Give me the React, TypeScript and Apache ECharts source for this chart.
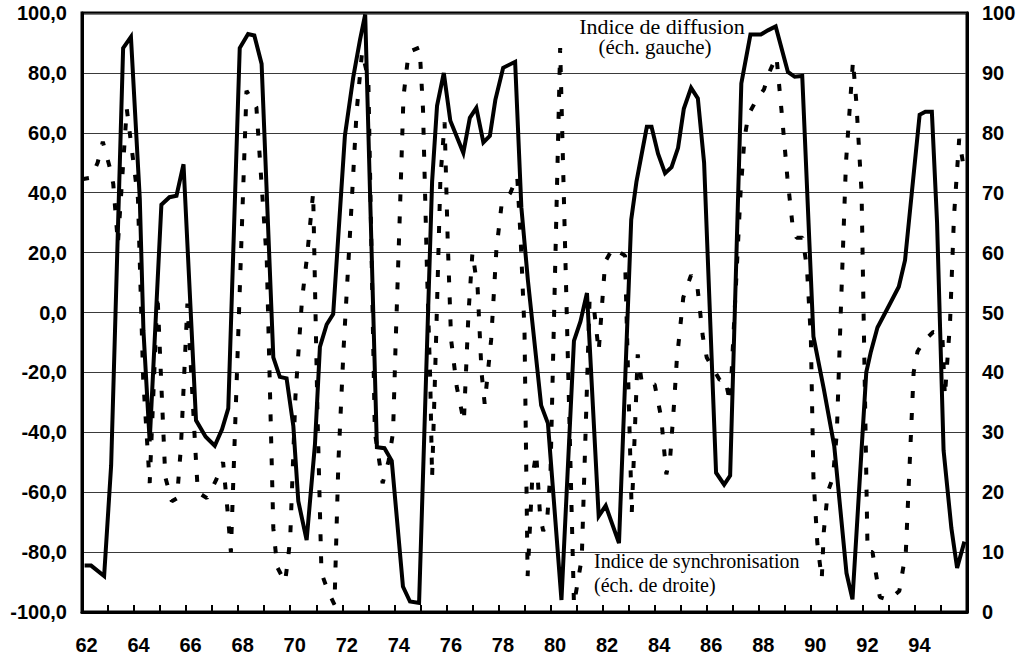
import React, { useEffect, useRef } from "react";
import * as echarts from "echarts";

// Indice de diffusion (échelle de gauche), by decimal year
const diffusionYears = [
  62.1, 62.35, 62.85, 63.12, 63.58, 63.88, 64.22, 64.36, 64.6, 65.05, 65.36, 65.63, 65.9, 66.38, 66.75,
  67.1, 67.38, 67.62, 68.06, 68.38, 68.62, 68.9, 69.35, 69.6, 69.86, 70.12, 70.31, 70.63, 70.95, 71.14,
  71.4, 71.65, 72.1, 72.42, 72.68, 72.88, 73.33, 73.62, 73.9, 74.33, 74.6, 74.95, 75.45, 75.64, 75.9,
  76.15, 76.65, 76.9, 77.15, 77.42, 77.67, 77.88, 78.18, 78.64, 78.88, 79.13, 79.64, 79.9, 80.42, 80.9,
  81.15, 81.4, 81.85, 82.12, 82.63, 83.1, 83.3, 83.7, 83.88, 84.13, 84.4, 84.65, 84.9, 85.12, 85.4,
  85.66, 85.9, 86.36, 86.67, 86.9, 87.33, 87.68, 88.08, 88.35, 88.65, 89.12, 89.38, 89.67, 90.1, 90.5,
  90.9, 91.37, 91.6, 92.13, 92.31, 92.56, 92.95, 93.38, 93.62, 94.18, 94.4, 94.65, 94.85, 95.1, 95.4,
  95.62, 95.9,
];
const diffusionValues = [
  -84.5, -84.5, -88, -51, 88.3, 92, 38, -6, -43, 36, 38.5, 39, 49.5, -36, -41.5,
  -44.5, -39, -32, 88.3, 93, 92.5, 83, -15, -21.5, -22, -38, -63, -76, -44, -11.5,
  -4, -0.5, 59, 78.5, 91, 99.5, -45, -45.3, -49.5, -91.5, -96.5, -97, 43.6, 69, 80,
  64, 53.3, 65, 68.3, 56.8, 59, 71, 81.7, 83.7, 35, 10.8, -31, -37, -96, -9.5,
  -3, 6.5, -68, -64.5, -77, 31, 43.6, 62, 62, 53, 46.5, 48.5, 55, 68, 75,
  71.5, 50, -53.5, -57.5, -54.5, 76.5, 92.8, 92.8, 94.2, 95.5, 80.3, 78.7, 79, -8, -25.6,
  -44.6, -87, -95.8, -20, -13, -5, 1.4, 8.6, 17.5, 66, 67, 67, 30, -46, -72,
  -85.3, -76.5,
];

// Indice de synchronisation (échelle de droite), by decimal year
const syncYears = [
  62.0, 62.35, 62.6, 62.8, 63.05, 63.2, 63.38, 63.72, 64.15, 64.35,
  64.6, 64.9, 65.2, 65.45, 65.65, 65.8, 66.05, 66.35, 66.45, 66.8,
  67.15, 67.42, 67.6, 67.72, 68.32, 68.7, 69.1, 69.35, 69.5, 69.8,
  69.92, 70.0, 70.2, 70.45, 70.65, 70.88, 71.05, 71.2, 71.45, 71.7,
  71.85, 72.05, 72.3, 72.55, 72.76, 73.0, 73.25, 73.55, 73.78, 73.95,
  74.05, 74.2, 74.35, 74.55, 74.97, 75.1, 75.25, 75.38, 75.45, 75.6,
  75.77, 75.93, 76.05, 76.18, 76.4, 76.67, 76.85, 77.0, 77.2, 77.35,
  77.47, 77.72, 77.92, 78.12, 78.46, 78.72, 78.85, 79.0, 79.12, 79.3,
  79.45, 79.6, 79.72, 79.88, 80.0, 80.37, 80.9, 81.2, 81.5, 81.65,
  81.85, 82.1, 82.4, 82.86, 83.12, 83.35, 83.5, 83.7, 84.0, 84.25,
  84.45, 84.6, 84.75, 84.85, 85.1, 85.4, 85.65, 85.85, 86.0, 86.5,
  86.7, 86.9, 87.3, 87.45, 87.6, 87.85, 88.2, 88.42, 88.68, 88.9,
  89.1, 89.3, 89.45, 89.68, 89.85, 90.0, 90.1, 90.25, 90.42, 90.5,
  90.65, 90.85, 91.0, 91.15, 91.35, 91.62, 91.75, 91.95, 92.18, 92.37,
  92.5, 92.65, 93.0, 93.4, 93.65, 93.8, 93.95, 94.1, 94.35, 94.7,
  95.05, 95.15, 95.35, 95.5, 95.7, 95.88,
];
const syncValues = [
  72.25, 72.5, 75, 78.5, 74.5, 71.5, 61.5, 84, 69, 39,
  21.5, 53, 22.5, 18.5, 19, 27.5, 51.5, 27.5, 20, 19,
  22, 25, 16.5, 10, 87, 84.25, 58.5, 14, 7.5, 5,
  9, 12.5, 36, 52, 59.5, 70, 32.5, 6.5, 3.5, 1.25,
  25, 44, 63.5, 83.5, 93.5, 89, 30, 21.5, 25.25, 30,
  45, 65, 86, 93.5, 94.25, 84, 57.5, 38.5, 22.5, 45,
  72.5, 81.75, 62, 45.5, 37.5, 31.75, 50, 60, 54, 40,
  34.75, 45.5, 60.5, 68, 70, 72.75, 62.5, 47, 6, 22.5,
  26.5, 16, 13.5, 16, 23.5, 94.15, 1.25, 9, 52, 51.5,
  43.5, 58.5, 60.75, 59.5, 16.5, 43, 38.5, 38.25, 38, 32.5,
  23, 26, 35, 42, 52.5, 56.25, 54, 46, 42.5, 38.75,
  39, 35, 70, 79, 83, 85, 87.25, 90.25, 92.75, 82.5,
  72.5, 64.5, 62.5, 62.5, 57.5, 46, 22.5, 11.5, 5.5, 13.5,
  20, 22.5, 30, 50, 75, 92, 85, 70, 10, 10,
  6.5, 2.5, 2, 3.5, 10, 25, 40, 43.5, 45.25, 46.75,
  46.5, 36, 48.5, 66, 79, 74,
];

// Axis scales and labels
const yearMin = 62;
const yearMax = 96;
const leftMin = -100;
const leftMax = 100;
const leftStep = 20;
const rightMin = 0;
const rightMax = 100;
const rightStep = 10;

const diffusionTitle = ["Indice de diffusion", "(éch. gauche)"];
const syncTitle = ["Indice de synchronisation", "(éch. de droite)"];

const SANS = '"Liberation Sans", Arial, Helvetica, sans-serif';
const SERIF = '"Liberation Serif", "Times New Roman", serif';

export default function App() {
  const ref = useRef<HTMLDivElement>(null);

  useEffect(() => {
    document.body.style.margin = "0";
    if (!ref.current) return;
    const chart = echarts.init(ref.current, null, { renderer: "svg" });

    const diffusionData = diffusionYears.map((y, i) => [y, diffusionValues[i]]);
    const syncData = syncYears.map((y, i) => [y, syncValues[i]]);

    const axisLabelBase = {
      color: "#000",
      fontFamily: SANS,
      fontWeight: "bold" as const,
      fontSize: 20,
    };

    const serifText = (text: string, x: number, y: number, align: string, scaleX = 1) => ({
      type: "text",
      x,
      y,
      scaleX,
      z: 100,
      style: {
        text,
        font: `20px ${SERIF}`,
        fill: "#000",
        align,
        verticalAlign: "middle",
        textAlign: align,
        textVerticalAlign: "middle",
      },
    });

    chart.setOption({
      animation: false,
      backgroundColor: "#fff",
      grid: {
        left: 82,
        right: 57,
        top: 13,
        bottom: 47,
        show: true,
        borderColor: "#000",
        borderWidth: 3,
      },
      xAxis: {
        type: "value",
        min: yearMin,
        max: yearMax,
        interval: 1,
        axisLine: { show: true, onZero: false, lineStyle: { color: "#000", width: 3 } },
        axisTick: { show: true, inside: true, length: 7, lineStyle: { color: "#000", width: 2 } },
        axisLabel: {
          ...axisLabelBase,
          margin: 23,
          padding: [0, 0, 0, 9],
          formatter: (v: number) => (v % 2 === 0 && v < yearMax ? String(v) : ""),
        },
        splitLine: { show: false },
      },
      yAxis: [
        {
          type: "value",
          position: "left",
          min: leftMin,
          max: leftMax,
          interval: leftStep,
          axisLine: { show: true, lineStyle: { color: "#000", width: 3 } },
          axisTick: { show: false },
          axisLabel: {
            ...axisLabelBase,
            margin: 15,
            formatter: (v: number) => v.toFixed(1).replace(".", ","),
          },
          splitLine: { show: true, lineStyle: { color: "#3a3a3a", width: 1 } },
        },
        {
          type: "value",
          position: "right",
          min: rightMin,
          max: rightMax,
          interval: rightStep,
          axisLine: { show: true, lineStyle: { color: "#000", width: 3 } },
          axisTick: { show: false },
          axisLabel: { ...axisLabelBase, margin: 15 },
          splitLine: { show: false },
        },
      ],
      series: [
        {
          name: diffusionTitle[0],
          type: "line",
          yAxisIndex: 0,
          data: diffusionData,
          symbol: "none",
          lineStyle: { color: "#000", width: 4, join: "miter" },
          z: 3,
        },
        {
          name: syncTitle[0],
          type: "line",
          yAxisIndex: 1,
          data: syncData,
          symbol: "none",
          lineStyle: { color: "#000", width: 4, type: [7, 15], cap: "butt" },
          z: 2,
        },
      ],
      graphic: [
        serifText(diffusionTitle[0], 662, 27, "center", 1.1),
        serifText(diffusionTitle[1], 655, 47, "center", 1.05),
        serifText(syncTitle[0], 594, 561, "left"),
        serifText(syncTitle[1], 594, 585, "left"),
      ],
    });

    return () => chart.dispose();
  }, []);

  return (
    <div
      ref={ref}
      style={{ position: "absolute", left: 0, top: 0, width: 1024, height: 659 }}
    />
  );
}
